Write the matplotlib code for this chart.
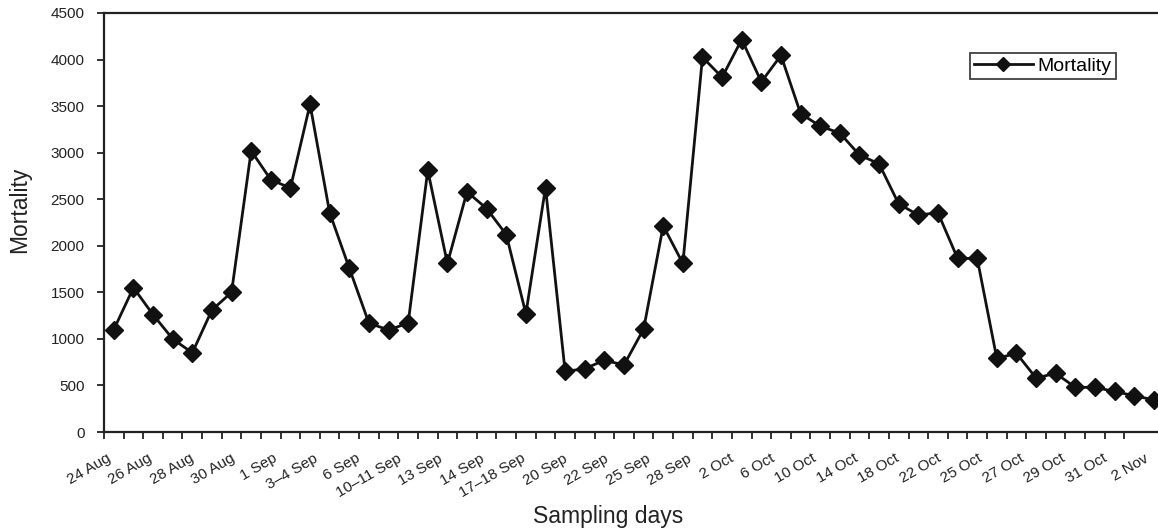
import numpy as np
import matplotlib
matplotlib.use('Agg')
import matplotlib.pyplot as plt

# values, one per sampling day
mortality = [
    1100, 1550, 1260, 1000, 850, 1310, 1500, 3020, 2710, 2620,
    3520, 2355, 1760, 1170, 1095, 1170, 2810, 1810, 2580, 2400,
    2120, 1270, 2625, 650, 680, 770, 720, 1105, 2215, 1810,
    4025, 3810, 4215, 3760, 4045, 3420, 3285, 3210, 2975, 2880,
    2450, 2330, 2355, 1865, 1865, 790, 845, 580, 630, 480,
    480, 435, 390, 345,
]

day_labels = [
    '24 Aug', '26 Aug', '28 Aug', '30 Aug', '1 Sep', '3\u20134 Sep', '6 Sep',
    '10\u201311 Sep', '13 Sep', '14 Sep', '17\u201318 Sep', '20 Sep', '22 Sep',
    '25 Sep', '28 Sep', '2 Oct', '6 Oct', '10 Oct', '14 Oct', '18 Oct',
    '22 Oct', '25 Oct', '27 Oct', '29 Oct', '31 Oct', '2 Nov',
]

y_ticks = [0, 500, 1000, 1500, 2000, 2500, 3000, 3500, 4000, 4500]

plt.rcParams['font.family'] = ['Liberation Sans', 'DejaVu Sans']

W, H = 1158, 529
fig = plt.figure(figsize=(W / 100, H / 100), dpi=100)
ax_w = 1059.6
ax = fig.add_axes([104 / W, 1 - 432 / H, ax_w / W, 419 / H])

x = np.arange(len(mortality))
ax.plot(x, mortality, color='#111111', linewidth=2.0, marker='D',
        markersize=9, markerfacecolor='#111111', markeredgecolor='#111111',
        label='Mortality')

ax.set_xlim(-0.5, len(mortality) - 0.5)
ax.set_ylim(0, 4500)
ax.set_yticks(y_ticks)

# tick marks between categories, labels spread over the whole axis
ax.set_xticks(np.arange(-0.5, len(mortality) + 0.5, 1.0), minor=True)
label_pos = np.linspace(-0.4, len(mortality) - 1.5, len(day_labels))
ax.set_xticks(label_pos)
ax.set_xticklabels(day_labels, rotation=30, ha='right', rotation_mode='anchor')

ax.tick_params(axis='x', which='major', length=0, pad=14, labelsize=11,
               colors='#222222')
ax.tick_params(axis='x', which='minor', length=5, width=1.3, direction='out',
               color='#222222')
ax.tick_params(axis='y', length=5, width=1.3, direction='out', labelsize=11,
               colors='#222222', pad=9)

for side in ['left', 'bottom', 'top']:
    ax.spines[side].set_linewidth(1.6)
    ax.spines[side].set_color('#222222')
ax.spines['right'].set_visible(False)

ax.set_ylabel('Mortality', fontsize=16.5, color='#222222')
ax.yaxis.set_label_coords((20 - 104) / ax_w, (432 - 210) / 419,
                          transform=ax.transAxes)
ax.yaxis.label.set_va('center')
ax.set_xlabel('Sampling days', fontsize=16.5, color='#222222')
ax.xaxis.set_label_coords((608 - 104) / ax_w, -(517 - 432) / 419,
                          transform=ax.transAxes)
ax.xaxis.label.set_va('center')

leg = ax.legend(loc='upper left', bbox_to_anchor=(970 / W, 1 - 53 / H),
                bbox_transform=fig.transFigure, fontsize=14, frameon=True,
                fancybox=False, handlelength=3.0, borderpad=0.22,
                handletextpad=0.25, borderaxespad=0, markerscale=0.75)
leg.get_frame().set_edgecolor('#111111')
leg.get_frame().set_linewidth(1.3)

fig.savefig('out.png', dpi=100)
